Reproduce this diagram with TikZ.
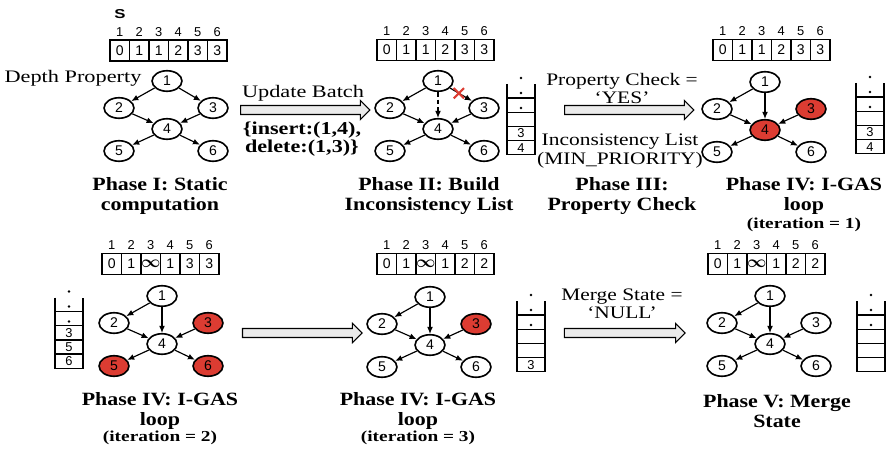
\documentclass[tikz,border=0pt]{standalone}
\usepackage{amsmath}
\usepackage{fontspec}
\setmainfont{Liberation Serif}
\setsansfont{Liberation Sans}
\usepackage{tikz}
\usetikzlibrary{arrows.meta,positioning,shapes.geometric,shapes.arrows,shapes.misc}
\definecolor{hotred}{RGB}{220,60,50}
\tikzset{
        vert/.style = {draw, ellipse, line width=1.4pt,
            minimum width=25.5pt, minimum height=17.5pt,
            inner sep=0pt, font=\sffamily\fontsize{12}{12}\selectfont},
        link/.style = {draw, -{Latex[length=6pt,width=5pt]}, line width=1pt},
        cell/.style = {draw, rectangle, line width=1.2pt,
            minimum width=16.6pt, minimum height=17.9pt,
            inner sep=0pt, font=\sffamily\fontsize{12}{12}\selectfont},
        idx/.style = {inner sep=0pt, font=\sffamily\fontsize{11}{11}\selectfont},
        slot/.style = {inner sep=0pt, font=\sffamily\fontsize{11}{11}\selectfont},
        stk/.style = {line width=1.1pt},
        fatarrow/.style = {draw, single arrow, fill=black!8, line width=0.9pt,
            inner xsep=0pt, inner ysep=3.4pt, single arrow head extend=4.3pt,
            single arrow head indent=0pt},
        note/.style = {inner sep=0pt, align=center, xscale=1.22,
            font=\fontsize{15}{16}\selectfont},
        batch/.style = {inner sep=0pt, align=center, xscale=1.22,
            font=\fontsize{15.5}{15.3}\selectfont\bfseries},
        phase/.style = {inner sep=0pt, align=center, xscale=1.17,
            font=\fontsize{16}{17}\selectfont\bfseries},
        iter/.style = {inner sep=0pt, xscale=1.27,
            font=\fontsize{13}{13}\selectfont\bfseries},
        xmark/.style = {cross out, draw=hotred, line width=1.8pt,
            minimum size=7pt, inner sep=0pt},
    }
\newcommand{\inftyval}{{\fontsize{15}{15}\selectfont$\boldsymbol{\infty}$}}

\begin{document}
\begin{tikzpicture}[x=0.03cm, y=-0.03cm]
\useasboundingbox (0,0) rectangle (888,450);

% Phase I
\node[font=\sffamily\bfseries\fontsize{11}{11}\selectfont, xscale=1.3,
    anchor=base, inner sep=0pt] (src) at (120,18.3) {S};
\node[note, anchor=base, xscale=1.04] (dp) at (73,82.3) {Depth Property};
\begin{scope}[shift={(167,81)}]
  \foreach \n/\x/\y/\f in {1/0/0/white,2/-48/27/white,3/46/27/white,
      4/0/48/white,5/-48/70/white,6/46/70/white}
    \node[vert, fill=\f] (a\n) at (\x,\y) {\n};
\end{scope}
\foreach \s/\t in {1/2,1/3,2/4,3/4,4/5,4/6}
  \draw[link] (a\s) -- (a\t);
\foreach \v [count=\i] in {0,1,1,2,3,3} {
  \node[cell] (da\i) at ({100.25+19.5*\i},50.5) {\v};
  \node[idx, above=2.5pt of da\i] (ia\i) {\i};
}
\node[phase] (t1) at (160,196) {Phase I: Static\\computation};

% update batch
\node[fatarrow, minimum height=110.5pt] (go1) at (303,110) {};
\node[note, anchor=base, xscale=1.04] (upd) at (303,97.7) {Update Batch};
\node[batch] (batch) at (302,139) {\{insert:(1,4),\\delete:(1,3)\}};

% Phase II
\begin{scope}[shift={(438,81)}]
  \foreach \n/\x/\y/\f in {1/0/0/white,2/-48/27/white,3/46/27/white,
      4/0/48/white,5/-48/70/white,6/46/70/white}
    \node[vert, fill=\f] (b\n) at (\x,\y) {\n};
\end{scope}
\foreach \s/\t in {1/2,2/4,3/4,4/5,4/6}
  \draw[link] (b\s) -- (b\t);
\draw[link] (b1) -- node[xmark, pos=0.4] (cut) {} (b3);
\draw[link, dash pattern=on 4pt off 2.5pt] (b1) -- (b4);
\foreach \v [count=\i] in {0,1,1,2,3,3} {
  \node[cell] (db\i) at ({367.25+19.5*\i},50) {\v};
  \node[idx, above=2.5pt of db\i] (ib\i) {\i};
}
\node[phase] (t2) at (429,196) {Phase II: Build\\Inconsistency List};

% Phase III
\node[fatarrow, minimum height=110.5pt] (go2) at (627,110) {};
\node[note] (chk) at (622,88.5) {Property Check =\\`YES'};
\node[note] (ilist) at (620,151) {Inconsistency List\\(MIN\_PRIORITY)};
\node[phase] (t3) at (622,196) {Phase III:\\Property Check};

% Phase IV, iteration 1
\begin{scope}[shift={(765,82)}]
  \foreach \n/\x/\y/\f in {1/0/0/white,2/-48/27/white,3/46/27/hotred,
      4/0/48/hotred,5/-48/70/white,6/46/70/white}
    \node[vert, fill=\f] (c\n) at (\x,\y) {\n};
\end{scope}
\foreach \s/\t in {1/2,1/4,2/4,3/4,4/5,4/6}
  \draw[link] (c\s) -- (c\t);
\foreach \v [count=\i] in {0,1,1,2,3,3} {
  \node[cell] (dc\i) at ({703.25+19.5*\i},50) {\v};
  \node[idx, above=2.5pt of dc\i] (ic\i) {\i};
}
\node[phase] (t4) at (804,196) {Phase IV: I-GAS\\loop};
\node[iter] (n4) at (804,225) {(iteration = 1)};

% Phase IV, iteration 2
\begin{scope}[shift={(162,296)}]
  \foreach \n/\x/\y/\f in {1/0/0/white,2/-48/27/white,3/46/27/hotred,
      4/0/48/white,5/-48/70/hotred,6/46/70/hotred}
    \node[vert, fill=\f] (d\n) at (\x,\y) {\n};
\end{scope}
\foreach \s/\t in {1/2,1/4,2/4,3/4,4/5,4/6}
  \draw[link] (d\s) -- (d\t);
\foreach \v [count=\i] in {0,1,\inftyval,1,3,3} {
  \node[cell] (dd\i) at ({92.25+19.5*\i},264) {\v};
  \node[idx, above=2.5pt of dd\i] (id\i) {\i};
}
\node[phase] (t5) at (160,411) {Phase IV: I-GAS\\loop};
\node[iter] (n5) at (160,438) {(iteration = 2)};

\node[fatarrow, minimum height=102pt] (go3) at (300,333) {};

% Phase IV, iteration 3
\begin{scope}[shift={(430,297)}]
  \foreach \n/\x/\y/\f in {1/0/0/white,2/-48/27/white,3/46/27/hotred,
      4/0/48/white,5/-48/70/white,6/46/70/white}
    \node[vert, fill=\f] (e\n) at (\x,\y) {\n};
\end{scope}
\foreach \s/\t in {1/2,1/4,2/4,3/4,4/5,4/6}
  \draw[link] (e\s) -- (e\t);
\foreach \v [count=\i] in {0,1,\inftyval,1,2,2} {
  \node[cell] (de\i) at ({367.25+19.5*\i},264) {\v};
  \node[idx, above=2.5pt of de\i] (ie\i) {\i};
}
\node[phase] (t6) at (418,411) {Phase IV: I-GAS\\loop};
\node[iter] (n6) at (418,438) {(iteration = 3)};

% Phase V
\node[fatarrow, minimum height=103pt] (go4) at (622.5,333) {};
\node[note] (mrg) at (622,304) {Merge State =\\[-1pt]`NULL'};
\begin{scope}[shift={(770,296)}]
  \foreach \n/\x/\y/\f in {1/0/0/white,2/-48/27/white,3/46/27/white,
      4/0/48/white,5/-48/70/white,6/46/70/white}
    \node[vert, fill=\f] (f\n) at (\x,\y) {\n};
\end{scope}
\foreach \s/\t in {1/2,1/4,2/4,3/4,4/5,4/6}
  \draw[link] (f\s) -- (f\t);
\foreach \v [count=\i] in {0,1,\inftyval,1,2,2} {
  \node[cell] (df\i) at ({698.25+19.5*\i},264) {\v};
  \node[idx, above=2.5pt of df\i] (if\i) {\i};
}
\node[phase] (t7) at (777,411) {Phase V: Merge\\State};

% inconsistency lists
\foreach \sx/\sy in {507/98,856/97,55/311.5,517/315,857/315} {
  \draw[stk] (\sx,\sy-14) -- (\sx,\sy+56.8) -- (\sx+28,\sy+56.8) -- (\sx+28,\sy-14);
  \foreach \k in {0,1,2,3}
    \draw[stk] (\sx,\sy+14.2*\k) -- (\sx+28,\sy+14.2*\k);
  \foreach \k in {-20,-5,10}
    \fill (\sx+14,\sy+\k) circle (1.3);
}
\node[slot] (sb3) at (521,133.5) {3};
\node[slot] (sb4) at (521,147.7) {4};
\node[slot] (sc3) at (870,132.5) {3};
\node[slot] (sc4) at (870,146.7) {4};
\node[slot] (sd3) at (69,332.8) {3};
\node[slot] (sd5) at (69,347) {5};
\node[slot] (sd6) at (69,361.2) {6};
\node[slot] (se3) at (531,364.7) {3};
\end{tikzpicture}
\end{document}
